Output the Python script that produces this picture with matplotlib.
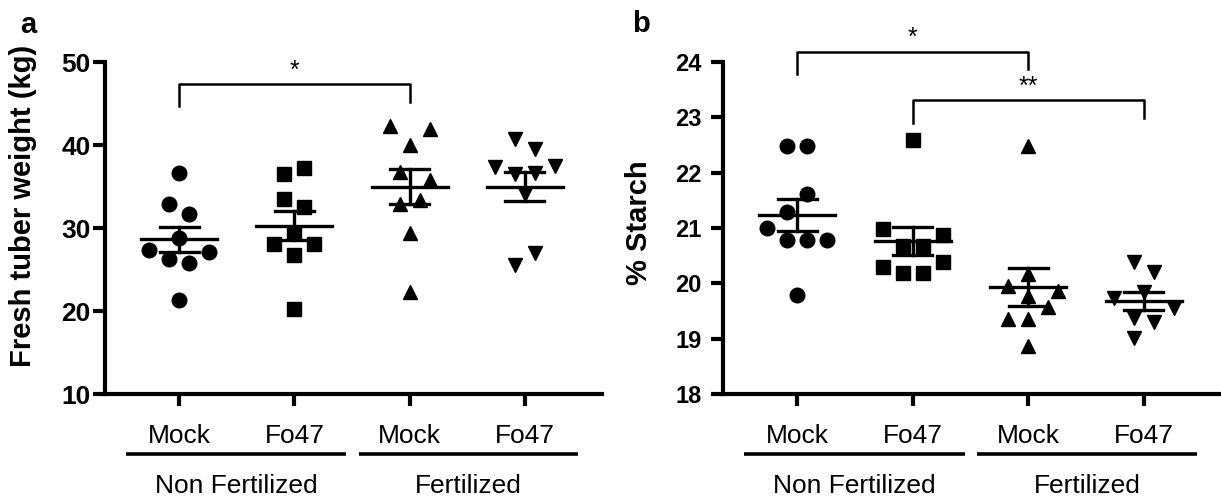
import numpy as np
import matplotlib
matplotlib.use("Agg")
import matplotlib.pyplot as plt
from matplotlib.transforms import blended_transform_factory

plt.rcParams["font.family"] = ["Liberation Sans", "DejaVu Sans"]

# tick labels / groups
treatments = ["Mock", "Fo47", "Mock", "Fo47"]
conditions = ["Non Fertilized", "Fertilized"]
markers = ["o", "s", "^", "v"]

# panel a: fresh tuber weight (kg)
weight_nf_mock = [36.6, 32.9, 31.7, 28.8, 27.3, 27.1, 26.3, 25.8, 21.3]
weight_nf_fo47 = [37.25, 36.5, 33.5, 32.5, 29.4, 28.1, 28.1, 26.8, 20.3]
weight_f_mock = [42.3, 41.9, 40.0, 36.8, 35.8, 33.4, 32.9, 29.4, 22.3]
weight_f_fo47 = [40.7, 39.5, 37.4, 37.5, 36.5, 36.6, 34.1, 27.0, 25.6]

# panel b: % starch
starch_nf_mock = [22.49, 22.49, 21.61, 21.29, 21.0, 20.79, 20.79, 20.79, 19.79]
starch_nf_fo47 = [22.59, 20.99, 20.88, 20.67, 20.67, 20.38, 20.29, 20.19, 20.19]
starch_f_mock = [22.48, 20.16, 19.96, 19.87, 19.77, 19.58, 19.36, 19.36, 18.87]
starch_f_fo47 = [20.39, 20.21, 19.85, 19.74, 19.55, 19.37, 19.31, 19.01]

# horizontal scatter layout of the points inside each column
h, w = 0.087, 0.26
offs_a = [
    [0, -h, h, 0, -w, w, -h, h, 0],
    [h, -h, -h, h, 0, -2 * h, 2 * h, 0, 0],
    [-2 * h, 2 * h, 0, -h, 2 * h, h, -h, 0, 0],
    [-h, h, -w, w, -h, h, 0, h, -h],
]
offs_b = [
    [-h, h, h, -h, -w, -h, h, w, 0],
    [0, -w, w, -h, h, w, -w, -h, h],
    [0, 0, -2 * h, w, 0, 2 * h, -2 * h, 0, 0],
    [-h, h, 0, -w, w, -h, h, -h],
]

fig = plt.figure(figsize=(12.21, 4.96), dpi=100)
ax_a = fig.add_axes([0.0860, 0.2056, 0.4070, 0.6694])
ax_b = fig.add_axes([0.5921, 0.2056, 0.4079, 0.6694])


def draw_panel(ax, groups, offsets, ylim, yticks, ylabel, ytick_size, ytick_pad, label_xy):
    for i, (vals, off) in enumerate(zip(groups, offsets)):
        vals = np.array(vals)
        xs = i + np.array(off)
        ax.plot(xs, vals, ls="none", marker=markers[i], ms=10.5 if i != 1 else 9.5,
                color="black", clip_on=False, zorder=2)
        m = vals.mean()
        sem = vals.std(ddof=1) / np.sqrt(len(vals))
        ax.plot([i - 0.33, i + 0.33], [m, m], color="black", lw=2.4, zorder=3)
        ax.plot([i - 0.17, i + 0.17], [m + sem, m + sem], color="black", lw=2.4, zorder=3)
        ax.plot([i - 0.17, i + 0.17], [m - sem, m - sem], color="black", lw=2.4, zorder=3)
        ax.plot([i, i], [m - sem, m + sem], color="black", lw=2.4, zorder=3)

    ax.set_xlim(-0.645, 3.67)
    ax.set_ylim(*ylim)
    ax.set_yticks(yticks)
    ax.set_yticklabels([str(t) for t in yticks], fontweight="bold")
    ax.set_xticks(range(4))
    ax.set_xticklabels(treatments)
    for s in ["top", "right"]:
        ax.spines[s].set_visible(False)
    for s in ["left", "bottom"]:
        ax.spines[s].set_linewidth(3)
    ax.tick_params(axis="both", direction="out", length=8.5, width=3)
    ax.tick_params(axis="y", labelsize=ytick_size, pad=ytick_pad)
    ax.tick_params(axis="x", labelsize=19, pad=13)
    ax.set_ylabel(ylabel, fontsize=21, fontweight="bold")
    ax.yaxis.set_label_coords(*label_xy)

    # underlines and condition names below the ticks
    tr = blended_transform_factory(ax.transData, ax.transAxes)
    for (x0, x1), name in zip([(-0.46, 1.45), (1.56, 3.46)], conditions):
        ax.plot([x0, x1], [-0.182, -0.182], transform=tr, color="black",
                lw=2.6, clip_on=False, solid_capstyle="butt")
        ax.text((x0 + x1) / 2, -0.276, name, transform=tr, ha="center",
                va="center", fontsize=19)


def bracket(ax, x0, x1, y_top, y0, y1, star_y, text):
    ax.plot([x0, x0, x1, x1], [y0, y_top, y_top, y1], color="black", lw=1.8,
            clip_on=False)
    ax.text((x0 + x1) / 2, star_y, text, ha="center", va="center", fontsize=18)


draw_panel(ax_a, [weight_nf_mock, weight_nf_fo47, weight_f_mock, weight_f_fo47],
           offs_a, (10, 50), [10, 20, 30, 40, 50], "Fresh tuber weight (kg)", 19, 2,
           (-0.136, 0.566))
draw_panel(ax_b, [starch_nf_mock, starch_nf_fo47, starch_f_mock, starch_f_fo47],
           offs_b, (18, 24), [18, 19, 20, 21, 22, 23, 24], "% Starch", 17, 7,
           (-0.141, 0.515))

bracket(ax_a, 0, 2, 47.4, 44.7, 45.2, 48.9, "*")
bracket(ax_b, 0, 2, 24.18, 23.79, 23.87, 24.43, "*")
bracket(ax_b, 1, 3, 23.31, 22.90, 22.99, 23.55, "**")

fig.text(0.0164, 0.933, "a", fontsize=21, fontweight="bold", va="baseline")
fig.text(0.5176, 0.935, "b", fontsize=21, fontweight="bold", va="baseline")

fig.savefig("out.png", dpi=100)
